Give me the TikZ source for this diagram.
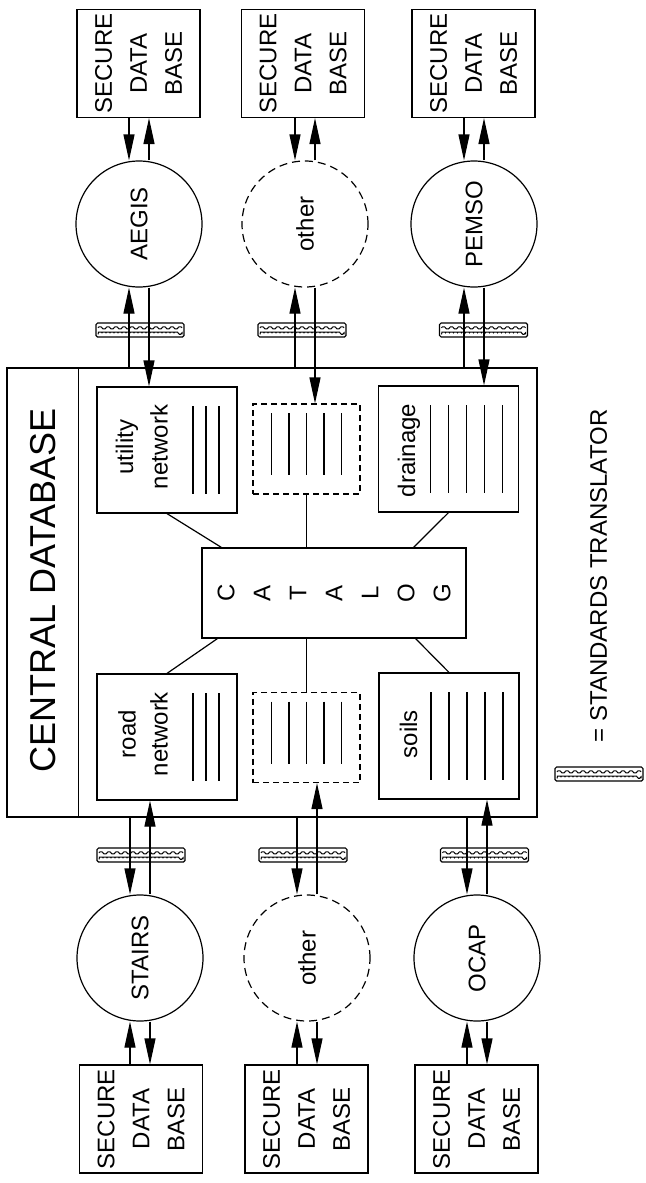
\documentclass[tikz,border=0pt]{standalone}
\usepackage{fontspec}
\setmainfont{Liberation Sans}
\usetikzlibrary{arrows.meta,calc,decorations.pathmorphing}

\tikzset{
  sdb/.style={draw, minimum width=61.5pt, minimum height=54pt, inner sep=0pt},
  sys/.style={draw, circle, minimum size=63pt, inner sep=0pt},
  othersys/.style={sys, dash pattern=on 4pt off 2.5pt},
  dblayer/.style={draw, minimum width=70pt, minimum height=63pt, inner sep=0pt},
  spare/.style={draw, dash pattern=on 3pt off 2pt, minimum width=53.5pt, minimum height=45pt, inner sep=0pt},
  flow/.style={-{Triangle[length=13pt,width=5.5pt]}},
  xlator/.style={draw, rounded corners=0.8pt, minimum width=44pt, minimum height=7pt, inner sep=0pt,
    path picture={
      \draw[line width=0.5pt, decorate, decoration={zigzag, segment length=4pt, amplitude=1.1pt}]
        ([xshift=1pt,yshift=1.1pt]path picture bounding box.west) -- ([xshift=-1pt,yshift=1.1pt]path picture bounding box.east);
      \draw[line width=0.5pt, decorate, decoration={bumps, segment length=4pt, amplitude=1.1pt}]
        ([xshift=1pt,yshift=-2.2pt]path picture bounding box.west) -- ([xshift=-1pt,yshift=-2.2pt]path picture bounding box.east);
    }}
}

\begin{document}
\begin{tikzpicture}[x=0.5pt, y=-0.5pt, line width=0.6pt,
  every node/.style={font=\fontsize{12}{17.5}\selectfont}]

\useasboundingbox (0,0) rectangle (645,1183);

% === outside systems, top row ===
\node[sdb] (sdbA) at (138.5,63.5) {};
\node[sdb] (sdbB) at (303,63.5) {};
\node[sdb] (sdbC) at (473.5,63.5) {};
\node[sys] (aegis) at (139,224) {\rotatebox{90}{AEGIS}};
\node[othersys] (othertop) at (305,224) {\rotatebox{90}{other}};
\node[sys] (pemso) at (474,224) {\rotatebox{90}{PEMSO}};

% === outside systems, bottom row ===
\node[sys] (stairs) at (140,958) {\rotatebox{90}{STAIRS}};
\node[othersys] (otherbot) at (307,958) {\rotatebox{90}{other}};
\node[sys] (ocap) at (477,958) {\rotatebox{90}{OCAP}};
\node[sdb] (sdbD) at (141,1119) {};
\node[sdb] (sdbE) at (306.5,1119) {};
\node[sdb] (sdbF) at (476.5,1119) {};

% box labels, one rotated word per line
\foreach \sdb in {sdbA,sdbB,sdbC,sdbD,sdbE,sdbF}
  \foreach \w [count=\j] in {SECURE,DATA,BASE}
    \node[rotate=90] (\sdb w\j) at ($(\sdb.center)+({(\j-2)*35},0)$) {\w};

% === central database ===
\node[draw, minimum width=265pt, minimum height=224.5pt, inner sep=0pt] (cdb) at (272,592.5) {};
\coordinate (split) at ($(cdb.north west)+(72,0)$);
\draw (split) -- (split |- cdb.south);
\node[rotate=90, font=\fontsize{18}{20}\selectfont] (title) at ($(cdb.west)+(37,-2)$) {CENTRAL DATABASE};

% layers
\node[dblayer] (utilnet) at (167,450) {};
\node[dblayer] (roadnet) at (167,737) {};
\node[dblayer] (drain) at (448.5,449) {};
\node[dblayer] (soils) at (449,736) {};
\node[spare] (spareA) at (306.5,449) {};
\node[spare] (spareB) at (306.5,737.5) {};
\node[draw, minimum width=132pt, minimum height=45pt, inner sep=0pt] (catalog) at (334,593) {};

\node[rotate=90] (utiltxt) at ($(utilnet.center)+(-40,-3)$) {utility};
\node[rotate=90] (utiltxtb) at ($(utilnet.center)+(-8,-3)$) {network};
\node[rotate=90] (roadtxt) at ($(roadnet.center)+(-40,-3)$) {road};
\node[rotate=90] (roadtxtb) at ($(roadnet.center)+(-8,-3)$) {network};
\node[rotate=90] (draintxt) at ($(drain.center)+(-39.5,1.5)$) {drainage};
\node[rotate=90] (soiltxt) at ($(soils.center)+(-40.5,-2)$) {soils};
\foreach \ch [count=\i] in {C,A,T,A,L,O,G}
  \node[rotate=90] (cat\i) at ($(catalog.center)+({(\i-4)*36},0)$) {\ch};

% record lines
\foreach \dx in {26,39,52} {
  \draw ($(utilnet.center)+(\dx,-44)$) -- ++(0,88);
  \draw ($(roadnet.center)+(\dx,-44)$) -- ++(0,88);
}
\foreach \dx in {-18,0,18,36,54} {
  \draw ($(drain.center)+(\dx,-44)$) -- ++(0,88);
  \draw ($(soils.center)+(\dx,-44)$) -- ++(0,88);
}
\foreach \dx in {-35,-17.5,0,17.5,35} {
  \draw ($(spareA.center)+(\dx,-36)$) -- ++(0,62);
  \draw ($(spareB.center)+(\dx,-36)$) -- ++(0,62);
}

% links to catalog
\draw (utilnet.south) -- ($(catalog.north west)+(20,0)$);
\draw (roadnet.north) -- ($(catalog.south west)+(16,0)$);
\draw (spareA.south) -- (spareA.south |- catalog.north);
\draw (spareB.north) -- (spareB.north |- catalog.south);
\draw (drain.south) -- ($(catalog.north east)+(-53,0)$);
\draw (soils.north) -- ($(catalog.south east)+(-51,0)$);

% === data flows ===
\foreach \sdb/\sys/\lay in {sdbA/aegis/utilnet, sdbB/othertop/spareA, sdbC/pemso/drain} {
  \draw[flow] ($(\sys.north |- \sdb.south)+(-10,0)$) -- ($(\sys.north)+(-10,0)$);
  \draw[flow] ($(\sys.north)+(10,0)$) -- ($(\sys.north |- \sdb.south)+(10,0)$);
  \draw[flow] ($(\sys.south |- cdb.north)+(-10,0)$) -- ($(\sys.south)+(-10,0)$);
  \draw[flow] ($(\sys.south)+(10,0)$) -- ($(\sys.south |- \lay.north)+(10,0)$);
}
\foreach \sdb/\sys/\lay in {sdbD/stairs/roadnet, sdbE/otherbot/spareB, sdbF/ocap/soils} {
  \draw[flow] ($(\sys.north |- cdb.south)+(-10,0)$) -- ($(\sys.north)+(-10,0)$);
  \draw[flow] ($(\sys.north)+(10,0)$) -- ($(\sys.north |- \lay.south)+(10,0)$);
  \draw[flow] ($(\sys.south |- \sdb.north)+(-10,0)$) -- ($(\sys.south)+(-10,0)$);
  \draw[flow] ($(\sys.south)+(10,0)$) -- ($(\sys.south |- \sdb.north)+(10,0)$);
}

% standards translators
\node[xlator] (trA) at (140,330) {};
\node[xlator] (trB) at (302,330) {};
\node[xlator] (trC) at (483.5,330) {};
\node[xlator] (trD) at (141,855) {};
\node[xlator] (trE) at (303,855) {};
\node[xlator] (trF) at (484.5,855) {};

% legend
\node[xlator] (legendbar) at (599,774) {};
\node[rotate=90] (legendtxt) at (598.5,576) {= STANDARDS TRANSLATOR};

\end{tikzpicture}
\end{document}
